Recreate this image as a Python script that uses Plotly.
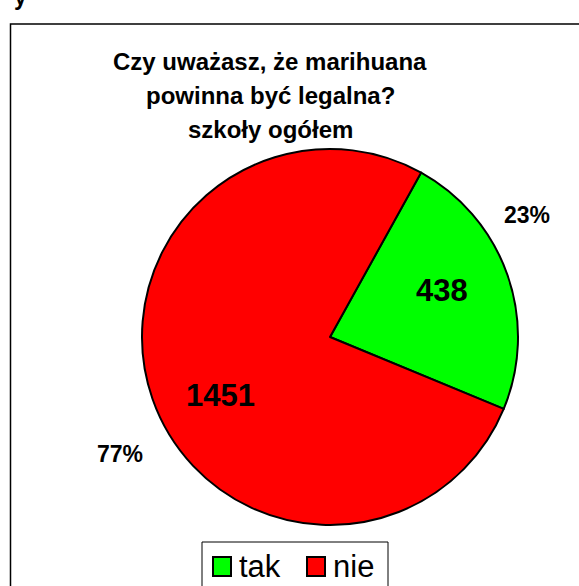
import plotly.graph_objects as go

W, H = 579, 586

labels = ["tak", "nie"]
values = [438, 1451]
colors = ["#00FF00", "#FF0000"]
title_lines = ["Czy uważasz, że marihuana", "powinna być legalna?", "szkoły ogółem"]

total = sum(values)
percents = [f"{round(v / total * 100)}%" for v in values]


def px(x):
    return x / W


def py(y):
    return 1 - y / H


fig = go.Figure()

fig.add_trace(go.Pie(
    labels=labels,
    values=values,
    sort=False,
    direction="clockwise",
    rotation=29,
    marker=dict(colors=colors, line=dict(color="#000000", width=2)),
    textinfo="none",
    hoverinfo="label+value+percent",
    showlegend=False,
    domain=dict(x=[px(142), px(518)], y=[py(525), py(149)]),
))

font_fam = "Arial, Liberation Sans, sans-serif"
annotations = []
shapes = []

# title, one annotation per line for the wider line spacing
for i, line in enumerate(title_lines):
    annotations.append(dict(
        text=f"<b>{line}</b>", x=px(270), y=py(61 + i * 34.5),
        xref="paper", yref="paper", showarrow=False,
        xanchor="center", yanchor="middle",
        font=dict(family=font_fam, size=24, color="#000000"),
    ))

# value labels inside slices, percentages outside
value_pos = [(442, 290), (220, 396)]
pct_pos = [(527, 215), (120, 454)]
for i in range(len(values)):
    annotations.append(dict(
        text=f"<b>{values[i]}</b>", x=px(value_pos[i][0]), y=py(value_pos[i][1]),
        xref="paper", yref="paper", showarrow=False,
        xanchor="center", yanchor="middle",
        font=dict(family=font_fam, size=31, color="#000000"),
    ))
    annotations.append(dict(
        text=f"<b>{percents[i]}</b>", x=px(pct_pos[i][0]), y=py(pct_pos[i][1]),
        xref="paper", yref="paper", showarrow=False,
        xanchor="center", yanchor="middle",
        font=dict(family=font_fam, size=23, color="#000000"),
    ))

# clipped fragment of text above the chart frame
annotations.append(dict(
    text="<b>y</b>", x=px(12), y=py(-3), xref="paper", yref="paper",
    showarrow=False, xanchor="left", yanchor="middle",
    font=dict(family=font_fam, size=23, color="#000000"),
))

# chart frame (runs past the right and bottom edges)
shapes.append(dict(
    type="rect", xref="paper", yref="paper",
    x0=px(10.5), x1=px(600), y0=py(620), y1=py(24),
    line=dict(color="#000000", width=1.5), fillcolor="rgba(0,0,0,0)",
))

# legend drawn by hand: boxed, squares close to their labels
shapes.append(dict(
    type="rect", xref="paper", yref="paper",
    x0=px(202), x1=px(388), y0=py(620), y1=py(542),
    line=dict(color="#000000", width=1), fillcolor="#FFFFFF",
))
legend_x = [212, 306]
for i, lab in enumerate(labels):
    shapes.append(dict(
        type="rect", xref="paper", yref="paper",
        x0=px(legend_x[i] + 1), x1=px(legend_x[i] + 19), y0=py(576), y1=py(557),
        line=dict(color="#000000", width=2), fillcolor=colors[i],
    ))
    annotations.append(dict(
        text=lab, x=px(legend_x[i] + 25), y=py(566),
        xref="paper", yref="paper", showarrow=False,
        xanchor="left", yanchor="middle",
        font=dict(family=font_fam, size=31, color="#000000"),
    ))

fig.update_layout(
    width=W, height=H, autosize=False,
    margin=dict(l=0, r=0, t=0, b=0),
    paper_bgcolor="#FFFFFF",
    plot_bgcolor="#FFFFFF",
    annotations=annotations,
    shapes=shapes,
    showlegend=False,
)

fig.write_html(
    "out.html",
    config={"displayModeBar": False},
    post_script="document.body.style.margin='0';document.body.style.overflow='hidden';",
)
